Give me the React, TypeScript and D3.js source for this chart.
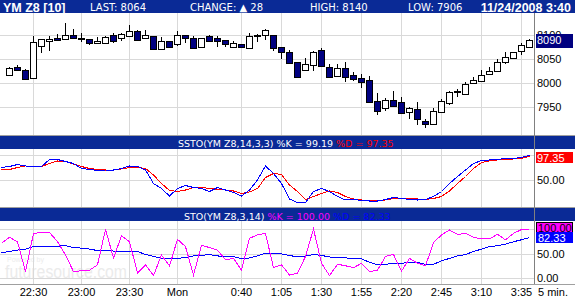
import React from "react";
import * as d3 from "d3";

// ---- data (bars 22:15 .. 3:40, 5-minute) ----
const openP = [8017,8033,8028,8010,8078,8087,8093,8092,8099,8093,8091,8083,8084,8100,8093,8097,8108,8093,8097,8070,8087,8081,8099,8093,8076,8097,8093,8089,8076,8081,8072,8097,8099,8100,8074,8065,8043,8027,8038,8068,8034,8015,8031,8016,8010,8006,7962,7947,7964,7960,7939,7946,7920,7915,7940,7958,7983,7977,7999,8005,8018,8024,8044,8053,8067,8076];
const highP = [8034,8037,8029,8097,8092,8098,8103,8126,8112,8105,8092,8095,8097,8105,8104,8121,8110,8110,8098,8095,8088,8109,8100,8097,8094,8101,8097,8090,8087,8082,8104,8103,8112,8101,8075,8069,8044,8053,8066,8072,8039,8039,8043,8022,8018,8015,7980,7968,7984,7970,7949,7960,7924,7947,7967,7983,7988,8002,8012,8028,8034,8051,8064,8065,8083,8091];
const lowP = [8016,8028,8007,8009,8062,8067,8088,8091,8092,8086,8080,8082,8083,8083,8088,8097,8089,8093,8070,8070,8076,8078,8083,8072,8073,8086,8076,8074,8076,8074,8072,8085,8089,8066,8051,8041,8013,8027,8026,8036,8013,8015,8003,8005,7990,7958,7934,7942,7951,7935,7926,7912,7906,7914,7940,7955,7970,7977,7999,8005,8018,8024,8039,8053,8058,8074];
const closeP = [8031,8028,8008,8085,8091,8091,8089,8099,8093,8091,8083,8087,8096,8088,8103,8108,8089,8099,8070,8088,8076,8101,8093,8072,8093,8087,8087,8081,8083,8074,8097,8101,8110,8072,8064,8041,8013,8039,8065,8036,8013,8032,8012,8009,8003,7961,7942,7964,7953,7938,7948,7924,7914,7942,7962,7981,7981,7998,8006,8017,8025,8044,8054,8064,8079,8090];

// indicators start one bar earlier (22:10 .. 3:40)
const sstoK = [75,77,81,78,77,77,91,91,87,83,73,71,69,70,70,73,78,77,70,43,33,18,33,39,35,33,27,35,30,25,18,30,50,78,63,43,12,5,5,27,33,27,17,10,11,9,8,8,11,15,13,11,10,11,17,27,43,57,70,83,89,90,91,93,93,95,99.19];
const sstoD = [70,71,75,78,77,77,83,88,87,82,77,73,71,70,70,72,75,75,73,60,43,29,27,30,35,35,33,31,30,28,23,26,33,55,63,61,40,27,11,17,23,28,25,17,12,10,9,9,10,13,13,13,12,11,13,17,28,43,57,73,85,88,90,91,92,93,97.35];
const stoK = [71,83,74,13,91,93,93,74,47,13,15,16,27,99,41,86,74,10,27,5,47,25,79,64,6,67,62,57,37,40,16,81,88,91,21,27,6,10,44,100,30,5,28,25,21,30,13,16,44,48,14,40,30,25,72,88,98,89,91,83,80,80,89,78,91,99,100];
const stoD = [52,54,57,59,64,64,64,65,66,62,61,59,56,56,55,55,54,54,48,44,40,39,40,42,45,46,48,45,44,44,39,41,45,51,51,49,46,43,45,48,46,43,41,41,40,39,32,27,28,30,30,32,32,28,28,35,40,45,48,54,59,64,66,69,74,78,82.33];

const xTickIdx = [3, 9, 15, 21, 29, 34, 39, 44, 49, 54, 59, 64];
const xTickLabels = ["22:30","23:00","23:30","Mon","0:40","1:05","1:30","1:55","2:20","2:45","3:10","3:35"];
const priceTicks = [8100, 8050, 8000, 7950];
const sstoTicks = [100, 50];
const stoTicks = [100, 50, 0];

const HDR = "#0a2a96";
const GRID = "#d9d9d9";
const SANS = "'Liberation Sans', Arial, sans-serif";
const VERD = "'DejaVu Sans', Verdana, sans-serif";

export default function App() {
  const W = 575, H = 300;
  const x = d3.scaleLinear().domain([0, 65]).range([9, 529]);
  const yP = d3.scaleLinear().domain([7950, 8100]).range([107, 35]);
  const yS = d3.scaleLinear().domain([0, 100]).range([205, 155]);
  const yT = d3.scaleLinear().domain([0, 100]).range([278, 229]);

  const ind = (arr: number[], ys: d3.ScaleLinear<number, number>) =>
    d3.line<number>().x((_, i) => x(i - 1) + 0.5).y((v) => ys(v))(arr) || "";

  const axisX = 534;
  const px = (v: number) => Math.round(v) + 0.5;

  return (
    <svg width={W} height={H} style={{ position: "absolute", left: 0, top: 0, background: "#fff" }}>
      <rect x={0} y={0} width={W} height={H} fill="#fff" />

      {/* watermark */}
      <text x={7} y={262} fontFamily={SANS} fontSize={7} fill="#ececec">Powered by</text>
      <text x={5} y={278} fontFamily={SANS} fontSize={18} fill="#ebebeb" textLength={122} lengthAdjust="spacingAndGlyphs">futuresource.com</text>

      {/* vertical grid */}
      {xTickIdx.map((t) => (
        <line key={"vg" + t} x1={px(x(t))} x2={px(x(t))} y1={13} y2={284} stroke={GRID} strokeWidth={1} />
      ))}
      {/* horizontal grid */}
      {priceTicks.map((t) => (
        <line key={"pg" + t} x1={0} x2={axisX} y1={px(yP(t))} y2={px(yP(t))} stroke={GRID} />
      ))}
      {sstoTicks.map((t) => (
        <line key={"sg" + t} x1={0} x2={axisX} y1={px(yS(t))} y2={px(yS(t))} stroke={GRID} />
      ))}
      {stoTicks.map((t) => (
        <line key={"tg" + t} x1={0} x2={axisX} y1={px(yT(t))} y2={px(yT(t))} stroke={GRID} />
      ))}

      {/* candles */}
      {openP.map((o, i) => {
        const c = closeP[i];
        const cx = Math.round(x(i));
        const top = Math.round(yP(Math.max(o, c)));
        const bot = Math.round(yP(Math.min(o, c)));
        const up = c >= o;
        return (
          <g key={"c" + i}>
            <line x1={cx + 0.5} x2={cx + 0.5} y1={Math.round(yP(highP[i]))} y2={Math.round(yP(lowP[i]))} stroke="#000" strokeWidth={1} />
            <rect x={cx - 2.5} y={top + 0.5} width={6} height={Math.max(1, bot - top)} fill={up ? "#fff" : "#000080"} stroke="#000" strokeWidth={1} />
          </g>
        );
      })}

      {/* indicator lines */}
      <path d={ind(sstoD, yS)} fill="none" stroke="#ff0000" strokeWidth={1} shapeRendering="crispEdges" />
      <path d={ind(sstoK, yS)} fill="none" stroke="#0000ff" strokeWidth={1} shapeRendering="crispEdges" />
      <path d={ind(stoD, yT)} fill="none" stroke="#0000ff" strokeWidth={1} shapeRendering="crispEdges" />
      <path d={ind(stoK, yT)} fill="none" stroke="#ff00ff" strokeWidth={1} shapeRendering="crispEdges" />

      {/* top header */}
      <rect x={0} y={0} width={W} height={13} fill={HDR} />
      <text x={3} y={12} fontFamily={SANS} fontWeight="bold" fontSize={12.5} fill="#fff">YM Z8 [10]</text>
      <text x={90} y={11} fontFamily={VERD} fontSize={10} fill="#fff">LAST: 8064</text>
      <text x={190} y={11} fontFamily={VERD} fontSize={10} fill="#fff">CHANGE: ▲ 28</text>
      <text x={310} y={11} fontFamily={VERD} fontSize={10} fill="#fff">HIGH: 8140</text>
      <text x={408} y={11} fontFamily={VERD} fontSize={10} fill="#fff">LOW: 7906</text>
      <text x={571} y={12} textAnchor="end" fontFamily={SANS} fontWeight="bold" fontSize={12.5} fill="#fff">11/24/2008 3:40</text>

      {/* SSTO header */}
      <line x1={0} x2={W} y1={135.5} y2={135.5} stroke="#a0a0a0" />
      <rect x={0} y={136} width={W} height={13} fill={HDR} />
      <text x={178} y={147} fontFamily={VERD} fontSize={9.5} fill="#fff">
        SSTO(YM Z8,14,3,3) %K = 99.19 <tspan fill="#ff0000">%D = 97.35</tspan>
      </text>

      {/* STO header */}
      <line x1={0} x2={W} y1={207.5} y2={207.5} stroke="#a0a0a0" />
      <rect x={0} y={208} width={W} height={13} fill={HDR} />
      <text x={184} y={219.5} fontFamily={VERD} fontSize={9.5} fill="#fff">
        STO(YM Z8,3,14) <tspan fill="#ff00ff">%K = 100.00</tspan> <tspan fill="#0000ff">%D = 82.33</tspan>
      </text>

      {/* bottom border + right axis line */}
      <line x1={0} x2={W} y1={284.5} y2={284.5} stroke="#a0a0a0" />
      <line x1={axisX + 0.5} x2={axisX + 0.5} y1={13} y2={284} stroke="#808080" />

      {/* price axis labels */}
      {priceTicks.map((t) => (
        <text key={"pl" + t} x={537} y={yP(t) + 4} fontFamily={SANS} fontSize={11} fill="#000">{t}</text>
      ))}
      <rect x={536} y={34} width={37} height={14} fill="#000080" />
      <text x={537} y={yP(closeP[closeP.length - 1]) + 4} fontFamily={SANS} fontSize={11} fill="#fff">{closeP[closeP.length - 1]}</text>

      {/* SSTO axis */}
      <text x={537} y={yS(50) + 4} fontFamily={SANS} fontSize={11} fill="#000">50.00</text>
      <rect x={536} y={152} width={37} height={11} fill="#ff0000" />
      <text x={537} y={161.5} fontFamily={SANS} fontSize={11} fill="#fff">97.35</text>

      {/* STO axis */}
      <text x={537} y={yT(50) + 4} fontFamily={SANS} fontSize={11} fill="#000">50.00</text>
      <text x={537} y={yT(0) + 4} fontFamily={SANS} fontSize={11} fill="#000">0.00</text>
      <rect x={536.5} y={222.5} width={36} height={10} fill="#ff00ff" stroke="#000" />
      <text x={538} y={232} fontFamily={SANS} fontSize={11} fill="#000">100.00</text>
      <rect x={536} y={232} width={37} height={11} fill="#0000ff" />
      <text x={538} y={241.5} fontFamily={SANS} fontSize={11} fill="#fff">82.33</text>

      {/* x labels */}
      {xTickIdx.map((t, i) => (
        <text key={"xl" + t} x={x(t) + 0.5} y={296} textAnchor="middle" fontFamily={SANS} fontSize={11} fill="#000">{xTickLabels[i]}</text>
      ))}
      <text x={538} y={296} fontFamily={SANS} fontSize={11} fill="#000">5 min.</text>
    </svg>
  );
}
